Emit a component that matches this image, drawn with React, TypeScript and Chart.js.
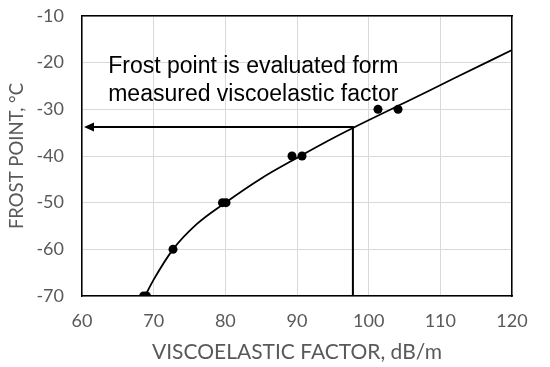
import React, { useEffect, useRef } from "react";
import { Chart, registerables } from "chart.js";

Chart.register(...registerables);

const sampleX = [68.6, 69.0, 72.7, 79.6, 80.1, 89.3, 90.7, 101.3, 104.1];
const sampleY = [-70, -70, -60, -50, -50, -40, -40, -30, -30];

const fitX = [68.8, 70, 72.7, 76, 80, 85, 90, 95, 97.8, 105, 112, 120];
const fitY = [-70, -66.5, -60, -54.6, -50, -44.8, -40.4, -36.2, -34, -28.6, -23.3, -17.3];

const evalX = 97.8;
const evalY = -33.8;

const noteLines = ["Frost point is evaluated form", "measured viscoelastic factor"];

const xTitle = "VISCOELASTIC FACTOR, dB/m";
const yTitle = "FROST POINT, \u00B0C";

const zeroPad = (scale: any) => {
  scale.paddingTop = 0;
  scale.paddingBottom = 0;
  scale.paddingLeft = 0;
  scale.paddingRight = 0;
};

const annotationPlugin = {
  id: "frostAnnotation",
  afterDatasetsDraw(chart: any) {
    const ctx = chart.ctx;
    const xs = chart.scales.x;
    const ys = chart.scales.y;
    const px = xs.getPixelForValue(evalX);
    const py = ys.getPixelForValue(evalY);
    const left = xs.getPixelForValue(xs.min);
    const bottom = ys.getPixelForValue(ys.min);
    ctx.save();
    ctx.strokeStyle = "#000";
    ctx.fillStyle = "#000";
    ctx.lineWidth = 2;
    ctx.beginPath();
    ctx.moveTo(px, bottom);
    ctx.lineTo(px, py);
    ctx.lineTo(left + 10, py);
    ctx.stroke();
    ctx.beginPath();
    ctx.moveTo(left + 2, py);
    ctx.lineTo(left + 12, py - 4.5);
    ctx.lineTo(left + 12, py + 4.5);
    ctx.closePath();
    ctx.fill();

    ctx.font = "23px 'Liberation Sans', Arial, sans-serif";
    ctx.textAlign = "center";
    ctx.textBaseline = "alphabetic";
    const cx = xs.getPixelForValue(83.9);
    const top = chart.chartArea.top;
    noteLines.forEach((t, i) => {
      ctx.fillText(t, cx, top + 57 + i * 28);
    });
    ctx.restore();
  },
};

export default function App() {
  const ref = useRef<HTMLCanvasElement>(null);
  useEffect(() => {
    document.body.style.margin = "0";
    const canvas = ref.current!;
    const tickColor = "#595959";
    const chart = new Chart(canvas, {
      type: "scatter",
      data: {
        datasets: [
          {
            label: "fit",
            data: fitX.map((x, i) => ({ x, y: fitY[i] })),
            showLine: true,
            borderColor: "#000",
            borderWidth: 1.8,
            pointRadius: 0,
            cubicInterpolationMode: "monotone",
            fill: false,
          },
          {
            label: "measured",
            data: sampleX.map((x, i) => ({ x, y: sampleY[i] })),
            showLine: false,
            pointRadius: 4.5,
            pointBackgroundColor: "#000",
            pointBorderColor: "#000",
            borderWidth: 0,
          },
        ],
      },
      options: {
        responsive: false,
        animation: false,
        events: [],
        layout: { padding: { top: 16, right: 38, left: 0, bottom: 0 } },
        plugins: { legend: { display: false }, tooltip: { enabled: false } },
        scales: {
          x: {
            type: "linear",
            min: 60,
            max: 120,
            ticks: {
              stepSize: 10,
              color: tickColor,
              font: { family: "Lato, 'Open Sans', sans-serif", size: 18 },
              padding: 14,
            },
            grid: { color: "#d9d9d9", lineWidth: 1, drawTicks: false },
            border: { color: "#000", width: 1.5 },
            title: {
              display: true,
              text: xTitle,
              color: tickColor,
              font: { family: "Lato, 'Open Sans', sans-serif", size: 21 },
              padding: { top: 0, bottom: 2 },
            },
            afterFit(scale: any) {
              scale.height = 71;
              zeroPad(scale);
            },
          },
          y: {
            type: "linear",
            min: -70,
            max: -10,
            ticks: {
              stepSize: 10,
              color: tickColor,
              font: { family: "Lato, 'Open Sans', sans-serif", size: 18 },
              padding: 18,
            },
            grid: { color: "#d9d9d9", lineWidth: 1, drawTicks: false },
            border: { color: "#000", width: 1.5 },
            title: {
              display: true,
              text: yTitle,
              color: tickColor,
              font: { family: "Lato, 'Open Sans', sans-serif", size: 18.5 },
              padding: { top: 6, bottom: 0 },
            },
            afterFit(scale: any) {
              scale.width = 82;
              zeroPad(scale);
            },
          },
          x2: {
            type: "linear",
            position: "top",
            min: 60,
            max: 120,
            display: true,
            ticks: { display: false },
            grid: { display: false, drawTicks: false },
            border: { color: "#000", width: 1.5 },
            afterFit(scale: any) {
              scale.height = 0;
              zeroPad(scale);
            },
          },
          y2: {
            type: "linear",
            position: "right",
            min: -70,
            max: -10,
            display: true,
            ticks: { display: false },
            grid: { display: false, drawTicks: false },
            border: { color: "#000", width: 1.5 },
            afterFit(scale: any) {
              scale.width = 0;
              zeroPad(scale);
            },
          },
        },
      } as any,
      plugins: [annotationPlugin],
    });
    return () => chart.destroy();
  }, []);
  return (
    <div style={{ position: "fixed", left: 0, top: 0, width: 550, height: 367, background: "#fff" }}>
      <canvas ref={ref} width={550} height={367} />
    </div>
  );
}
